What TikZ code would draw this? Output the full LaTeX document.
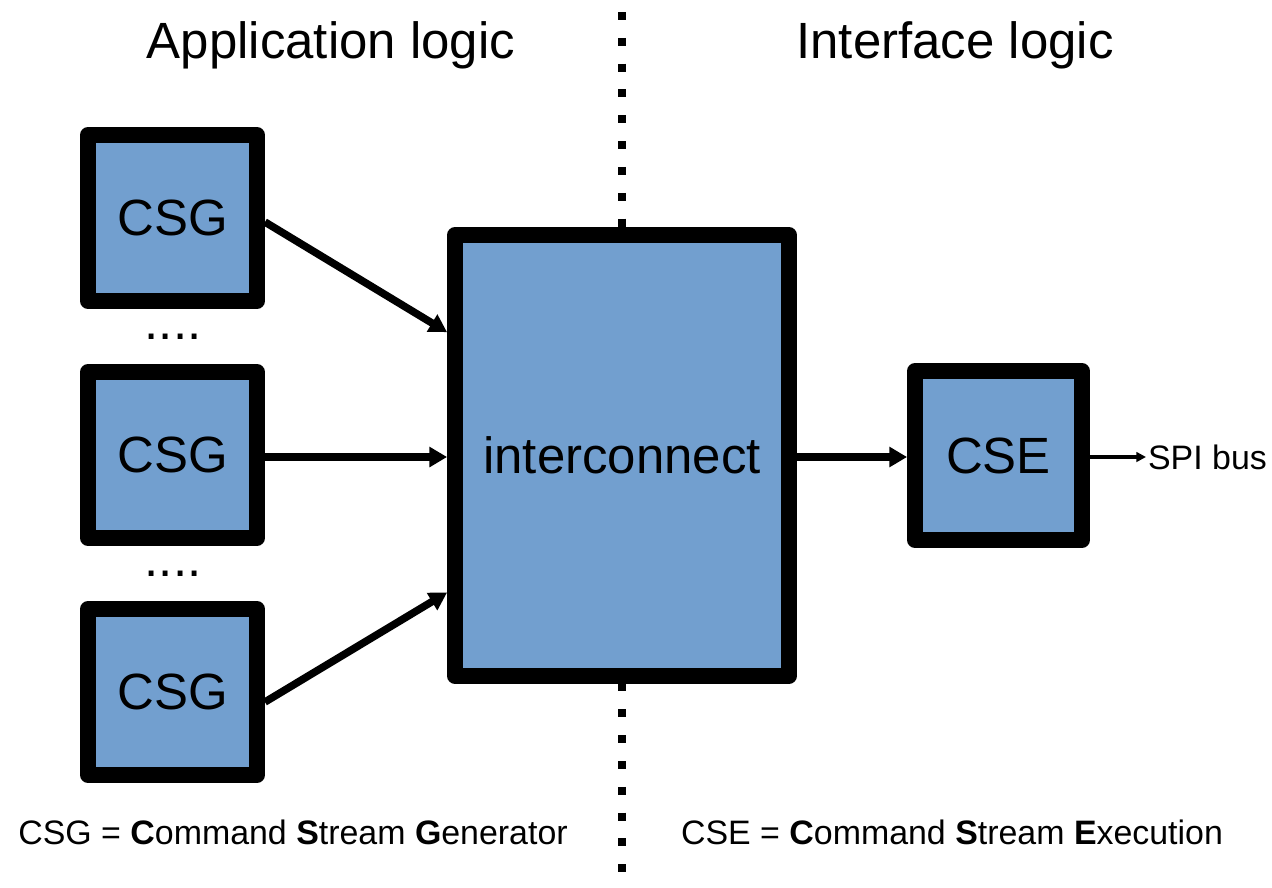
\documentclass[tikz,border=0pt]{standalone}
\usepackage{fontspec}
\setmainfont{Liberation Sans}
\usetikzlibrary{arrows.meta,calc}
\definecolor{skyblue}{RGB}{114,159,207}
\tikzset{blk/.style={draw, line width=9.07pt, line join=round, fill=skyblue, inner sep=0pt,
    font=\fontsize{29}{34}\selectfont},
  pin/.style={line width=4.3pt, -{Triangle[length=10pt,width=11pt]}},
  thinpin/.style={line width=2pt, -{Triangle[length=5.5pt,width=5.5pt]}},
  big/.style={font=\fontsize{29}{34}\selectfont},
  note/.style={font=\fontsize{19.3}{23}\selectfont}}

\begin{document}
\begin{tikzpicture}[x=0.02cm, y=-0.02cm]
  \useasboundingbox (0,0) rectangle (1272,887);
  % side headings and separator
  \node[big] (app) at (331,45) {Application logic};
  \node[big] (ifc) at (955,45) {Interface logic};
  \coordinate (septop) at (622,12);
  \coordinate (sepbot) at (622,874);
  \draw[line width=4.5pt, dash pattern=on 4.5pt off 10.2pt] (septop) -- (sepbot);
  % generators
  \node[blk, minimum width=3.38cm, minimum height=3.32cm] (csga) at (172.5,218) {CSG};
  \node[blk, minimum width=3.38cm, minimum height=3.32cm] (csgb) at (172.5,455) {CSG};
  \node[blk, minimum width=3.38cm, minimum height=3.32cm] (csgc) at (172.5,692) {CSG};
  \node[big] (dotsa) at (173,337) {....};
  \node[big] (dotsb) at (173,574) {....};
  % interconnect and executor
  \node[blk, minimum width=6.68cm, minimum height=8.82cm] (ic) at (622,455.5) {interconnect};
  \node[blk, minimum width=3.34cm, minimum height=3.38cm] (cse) at (998.5,455.5) {CSE};
  \node[note, anchor=west, inner sep=1pt] (spi) at (1146,457) {SPI bus};
  % links
  \draw[pin] ($(csga.east)+(0,4)$) -- ($(ic.north west)!0.23!(ic.south west)$);
  \draw[pin] (csgb.east |- 0,457) -- (ic.west |- 0,457);
  \draw[pin] ($(csgc.east)+(0,10)$) -- ($(ic.north west)!0.8!(ic.south west)$);
  \draw[pin] (ic.east |- 0,457) -- (cse.west |- 0,457);
  \draw[thinpin] (cse.east |- spi.west) -- (spi.west);
  % legends
  \node[note] (csgkey) at (293,832) {CSG = \textbf{C}ommand \textbf{S}tream \textbf{G}enerator};
  \node[note] (csekey) at (952,832) {CSE = \textbf{C}ommand \textbf{S}tream \textbf{E}xecution};
\end{tikzpicture}
\end{document}
